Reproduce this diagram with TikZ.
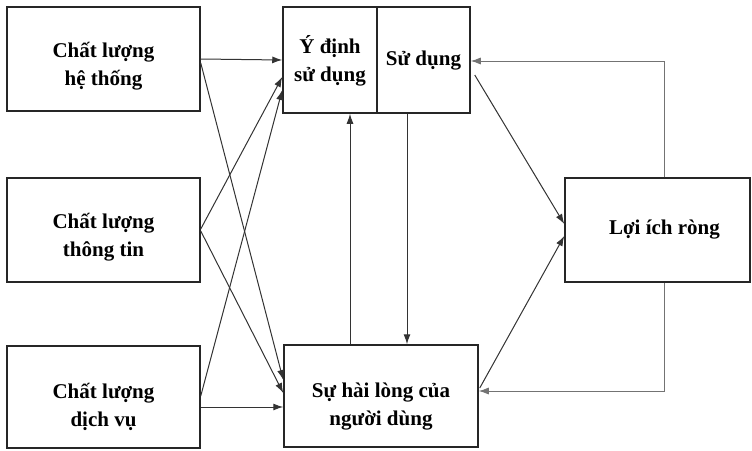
\documentclass[tikz,border=0pt]{standalone}
\usepackage{fontspec}
\setmainfont{Liberation Serif}
\usetikzlibrary{arrows.meta}
\tikzset{
  box/.style={draw=black!85, line width=1.5pt, rectangle, inner sep=0pt},
  lbl/.style={align=center, inner sep=0pt, font=\bfseries\fontsize{21}{28}\selectfont, text=black},
  conn/.style={draw=black!80, line width=1pt, -{Latex[length=10pt,width=7pt]}},
  back/.style={draw=black!55, line width=0.8pt, -{Latex[length=10pt,width=7pt]}},
}
\begin{document}
\begin{tikzpicture}[x=1pt,y=-1pt]
\useasboundingbox (0,0) rectangle (752,450);
\node[box, minimum width=193pt, minimum height=104pt] (clht) at (103.5,59) {};
\node[box, minimum width=193pt, minimum height=104pt] (cltt) at (103.5,230) {};
\node[box, minimum width=193pt, minimum height=102pt] (cldv) at (103.5,397) {};
\node[box, minimum width=94pt, minimum height=106pt] (ydinh) at (330,60) {};
\node[box, minimum width=93pt, minimum height=106pt] (sudung) at (423.5,60) {};
\node[box, minimum width=194pt, minimum height=102pt] (shl) at (381,396) {};
\node[box, minimum width=185pt, minimum height=104pt] (lir) at (657.5,230) {};

\node[lbl] (clht-t) at ([yshift=-7pt]clht.center) {Chất lượng\\hệ thống};
\node[lbl] (cltt-t) at ([yshift=-7pt]cltt.center) {Chất lượng\\thông tin};
\node[lbl] (cldv-t) at ([yshift=-10pt]cldv.center) {Chất lượng\\dịch vụ};
\node[lbl] (ydinh-t) at ([yshift=-1pt]ydinh.center) {Ý định\\sử dụng};
\node[lbl] (sudung-t) at ([yshift=-1pt]sudung.center) {Sử dụng};
\node[lbl] (shl-t) at ([yshift=-11pt]shl.center) {Sự hài lòng của\\người dùng};
\node[lbl] (lir-t) at ([xshift=7pt]lir.center) {Lợi ích ròng};

% inputs to intention / satisfaction
\draw[conn] (clht.east) -- (ydinh.west);
\draw[conn] ([yshift=-4pt]clht.east) -- ([yshift=16pt]shl.west);
\draw[conn] ([yshift=1pt]cltt.east) -- ([yshift=-17pt]ydinh.west);
\draw[conn] ([yshift=-1pt]cltt.east) -- ([yshift=3pt]shl.west);
\draw[conn] ([yshift=1pt]cldv.east) -- ([yshift=-30pt]ydinh.west);
\draw[conn] ([yshift=-10pt]cldv.east) -- ([yshift=-11pt]shl.west);

% verticals between use and satisfaction
\coordinate (a7) at ([xshift=-31pt]shl.north);
\draw[conn] (a7) -- (a7 |- ydinh.south);
\coordinate (a8) at ([xshift=-16.5pt]sudung.south);
\draw[conn] (a8) -- (a8 |- shl.north);

% to net benefits
\draw[conn] ([shift={(4pt,-15pt)}]sudung.east) -- ([yshift=6pt]lir.west);
\draw[conn] ([shift={(1pt,8pt)}]shl.east) -- ([yshift=-6pt]lir.west);

% feedback
\draw[back] ([xshift=6.5pt]lir.north) |- ([yshift=-1pt]sudung.east);
\draw[back] ([xshift=6.5pt]lir.south) |- ([yshift=5pt]shl.east);
\end{tikzpicture}
\end{document}
